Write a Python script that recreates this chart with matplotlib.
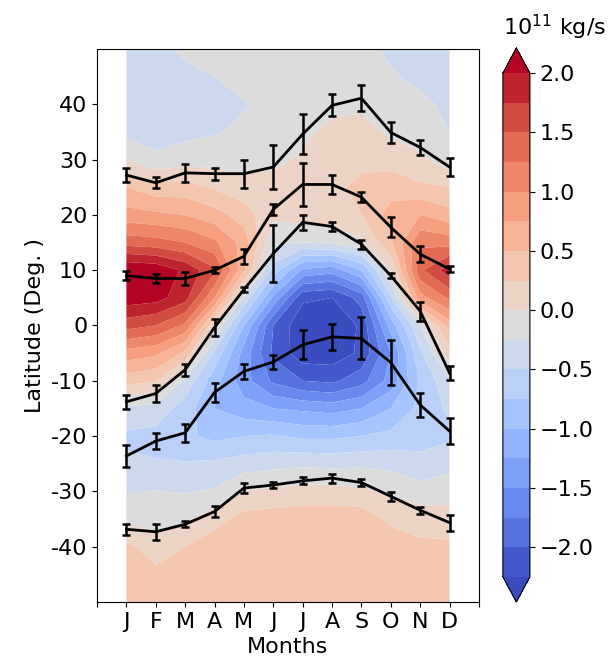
import numpy as np
import matplotlib
matplotlib.use("Agg")
import matplotlib.pyplot as plt

# ---------------- data ----------------
months = ['J', 'F', 'M', 'A', 'M', 'J', 'J', 'A', 'S', 'O', 'N', 'D']
month_idx = np.arange(12)

# latitude grid of the contoured field (north -> south)
lat_grid = [50, 45, 40, 35, 30, 25, 20, 15, 10, 5, 0, -5, -10, -15, -20, -25, -30, -35, -40, -45, -50]

# field values (10^11 kg/s), one list per month, ordered like lat_grid
f_jan = [-0.35, -0.35, -0.33, -0.32, 0.00, 0.50, 0.85, 1.40, 2.25, 2.15, 1.60, 0.90, 0.35, -0.30, -0.55, -0.45, -0.27, -0.10, 0.30, 0.35, 0.35]
f_feb = [-0.33, -0.35, -0.35, -0.35, -0.20, 0.35, 0.80, 1.35, 2.20, 2.10, 1.50, 0.80, 0.27, -0.35, -0.58, -0.48, -0.24, -0.10, 0.15, 0.30, 0.32]
f_mar = [-0.20, -0.32, -0.35, -0.32, -0.12, 0.35, 0.75, 1.25, 1.95, 1.85, 1.20, 0.45, -0.30, -0.62, -0.70, -0.48, -0.27, -0.05, 0.25, 0.35, 0.35]
f_apr = [-0.15, -0.25, -0.32, -0.27, -0.10, 0.22, 0.60, 1.05, 1.55, 1.00, 0.05, -0.55, -0.90, -1.00, -0.82, -0.45, -0.22, 0.15, 0.40, 0.40, 0.40]
f_may = [-0.10, -0.15, -0.27, -0.20, -0.10, 0.10, 0.38, 0.65, 0.55, -0.30, -1.00, -1.35, -1.40, -1.15, -0.75, -0.38, 0.01, 0.35, 0.40, 0.40, 0.40]
f_jun = [-0.10, -0.10, -0.15, -0.10, -0.05, 0.08, 0.05, -0.20, -0.60, -1.30, -2.00, -2.05, -1.80, -1.25, -0.72, -0.33, 0.05, 0.38, 0.42, 0.42, 0.42]
f_jul = [-0.12, -0.10, -0.08, -0.05, 0.03, 0.15, 0.12, -0.25, -1.30, -2.20, -2.45, -2.40, -2.00, -1.30, -0.80, -0.30, 0.10, 0.40, 0.42, 0.42, 0.42]
f_aug = [-0.15, -0.10, -0.06, 0.06, 0.15, 0.20, 0.15, -0.20, -1.40, -2.25, -2.50, -2.40, -2.05, -1.35, -0.80, -0.32, 0.10, 0.40, 0.42, 0.42, 0.42]
f_sep = [-0.20, -0.15, -0.05, 0.10, 0.20, 0.30, 0.25, -0.05, -1.00, -1.90, -2.20, -2.20, -1.85, -1.25, -0.75, -0.30, 0.05, 0.40, 0.42, 0.42, 0.42]
f_oct = [-0.28, -0.23, -0.15, -0.05, 0.15, 0.40, 0.60, 0.45, 0.00, -0.55, -1.15, -1.50, -1.40, -1.00, -0.68, -0.32, -0.05, 0.20, 0.38, 0.40, 0.40]
f_nov = [-0.30, -0.30, -0.20, -0.12, 0.05, 0.30, 0.75, 1.20, 1.45, 0.90, -0.25, -0.55, -0.72, -0.68, -0.60, -0.42, -0.15, 0.15, 0.30, 0.35, 0.35]
f_dec = [-0.35, -0.35, -0.30, -0.25, -0.15, 0.25, 0.60, 1.15, 1.90, 1.30, 0.60, 0.15, -0.30, -0.45, -0.55, -0.33, -0.10, 0.10, 0.30, 0.35, 0.35]

# line series (latitude, deg) and their error half-widths
line1 = [27.2, 25.8, 27.6, 27.45, 27.45, 28.65, 34.6, 39.8, 41.1, 34.9, 32.2, 28.65]
err1 = [1.2, 1.0, 1.6, 1.1, 2.5, 4.0, 3.6, 2.0, 2.4, 1.9, 1.4, 1.6]
line2 = [9.0, 8.5, 8.5, 10.0, 12.5, 21.0, 25.5, 25.5, 23.2, 17.75, 12.9, 10.2]
err2 = [0.85, 0.9, 1.2, 0.5, 1.4, 1.05, 3.9, 1.75, 0.9, 1.8, 1.45, 0.6]
line3 = [-13.8, -12.3, -8.0, -0.35, 6.5, 13.0, 18.65, 17.9, 14.7, 9.0, 2.6, -8.6]
err3 = [1.27, 1.5, 1.1, 1.6, 0.5, 5.1, 1.4, 0.9, 0.8, 0.5, 1.7, 1.3]
line4 = [-23.6, -20.9, -19.4, -12.1, -8.3, -6.6, -3.5, -2.05, -2.35, -6.7, -14.35, -19.1]
err4 = [2.0, 1.45, 1.6, 1.65, 1.35, 1.3, 2.6, 2.4, 3.8, 4.0, 2.2, 2.3]
line5 = [-36.85, -37.3, -35.95, -33.65, -29.4, -28.85, -28.1, -27.6, -28.4, -30.9, -33.4, -35.65]
err5 = [0.97, 1.45, 0.55, 0.97, 0.87, 0.6, 0.65, 0.8, 0.7, 0.87, 0.66, 1.45]

ytick_vals = [-40, -30, -20, -10, 0, 10, 20, 30, 40]
cbar_ticks = [-2.0, -1.5, -1.0, -0.5, 0.0, 0.5, 1.0, 1.5, 2.0]

# ---------------- plot ----------------
FS = 16
fig = plt.figure(figsize=(6.14, 6.7), dpi=100)
ax = fig.add_axes([0.158, 0.1015, 0.622, 0.8254])

field = np.array([f_jan, f_feb, f_mar, f_apr, f_may, f_jun, f_jul, f_aug,
                  f_sep, f_oct, f_nov, f_dec]).T
lat = np.array(lat_grid)
order = np.argsort(lat)
levels = np.arange(-2.25, 2.01, 0.25)
cf = ax.contourf(month_idx, lat[order], field[order, :], levels=levels,
                 cmap='coolwarm', extend='both', antialiased=True)

for yv, ev in [(line1, err1), (line2, err2), (line3, err3), (line4, err4), (line5, err5)]:
    ax.errorbar(month_idx, yv, yerr=ev, color='k', lw=2.0, elinewidth=1.8,
                capsize=3, capthick=1.8, zorder=5)

ax.set_xlim(-1, 12)
ax.set_ylim(-50, 50)
ax.set_xticks(range(-1, 13))
ax.set_xticklabels([''] + months + [''], fontsize=FS)
ax.set_yticks(ytick_vals)
ax.set_yticklabels([str(v) for v in ytick_vals], fontsize=FS)
ax.set_xlabel('Months', fontsize=FS)
ax.set_ylabel('Latitude (Deg. )', fontsize=FS)

cax = fig.add_axes([0.819, 0.1015, 0.044, 0.8269])
cb = fig.colorbar(cf, cax=cax, ticks=cbar_ticks)
cb.ax.tick_params(labelsize=FS)
cb.ax.set_title('10$^{11}$ kg/s', fontsize=FS, loc='left', pad=9)

fig.savefig('out.png', dpi=100)
